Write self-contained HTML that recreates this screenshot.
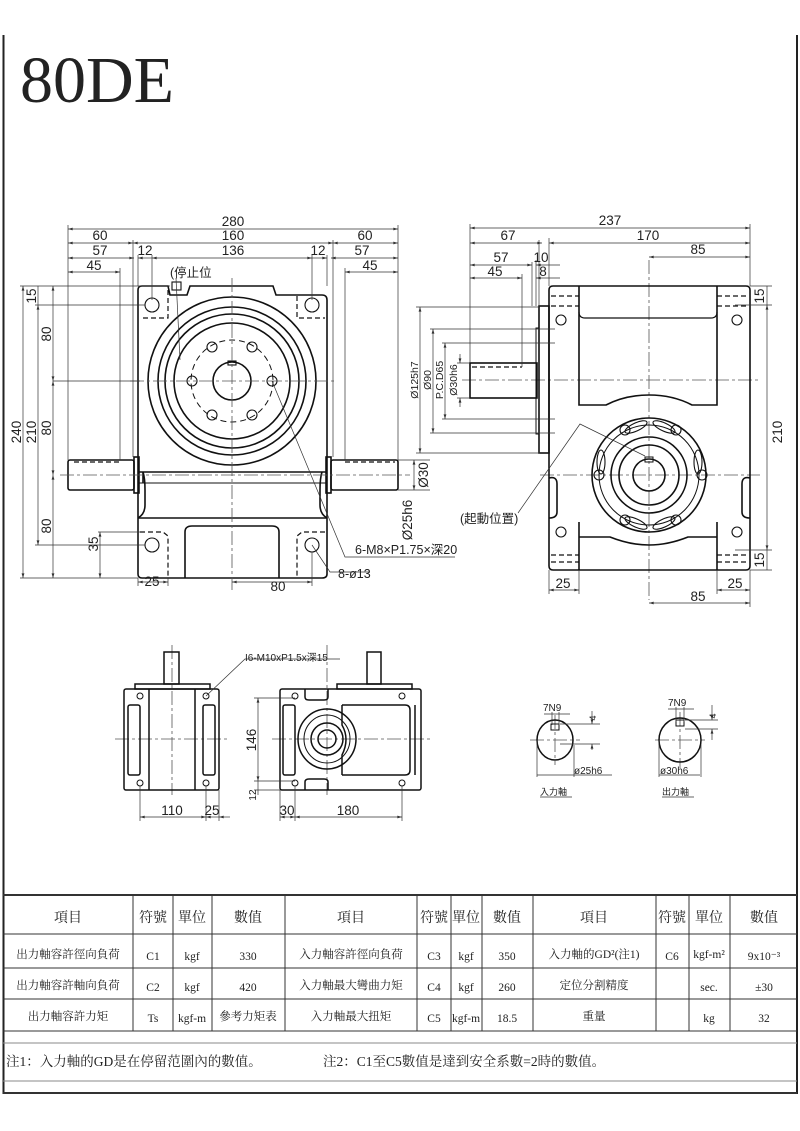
<!DOCTYPE html>
<html><head><meta charset="utf-8"><style>
html,body{margin:0;padding:0;background:#fff}
svg{display:block}
text{font-family:"Liberation Sans","Noto Sans CJK TC",sans-serif;fill:#222}
.t{font-family:"Liberation Serif","Noto Serif CJK SC",serif;fill:#222}
</style></head><body>
<svg width="800" height="1131" viewBox="0 0 800 1131" xmlns="http://www.w3.org/2000/svg">
<defs>
<marker id="a" viewBox="0 0 10 6" refX="10" refY="3" markerWidth="7" markerHeight="4" orient="auto-start-reverse"><path d="M0,0L10,3L0,6z" fill="#333"/></marker>
</defs>
<!-- frame -->
<line x1="3.5" y1="35" x2="3.5" y2="1094" stroke="#222" stroke-width="2"/>
<line x1="797" y1="35" x2="797" y2="1094" stroke="#222" stroke-width="2"/>
<text x="20" y="102" class="t" font-size="66" style="font-family:'Liberation Serif',serif">80DE</text>

<g fill="none" stroke="#111" stroke-width="1.6">
<!-- LEFT VIEW -->
<path d="M138,290 Q138,286 142,286 L168,286 L170,295 L187,295 L190,286 L273,286 L276,295 L322,295 Q327,295 327,300 L327,574 Q327,578 322,578 L142,578 Q138,578 138,574 Z"/>
<circle cx="232" cy="381" r="84"/>
<circle cx="232" cy="381" r="74"/>
<circle cx="232" cy="381" r="67"/>
<circle cx="232" cy="381" r="58"/>
<circle cx="232" cy="381" r="19"/>
<line x1="138" y1="472" x2="327" y2="472"/>
<line x1="143" y1="472" x2="143" y2="483" />
<path d="M143,472 Q145,478 145,490 L145,505 Q145,514 138,518"/>
<path d="M322,472 Q320,478 320,490 L320,505 Q320,514 327,518"/>
<line x1="138" y1="483" x2="327" y2="483" stroke-width="1"/>
<line x1="138" y1="518" x2="327" y2="518"/>
<path d="M185,578 L185,532 Q185,526 192,526 L272,526 Q279,526 279,532 L279,578"/>
<rect x="68" y="460" width="66" height="30" rx="2"/>
<rect x="134" y="457" width="5" height="36"/>
<rect x="331" y="460" width="67" height="30" rx="2"/>
<rect x="326" y="457" width="5" height="36"/>
<g stroke-width="1.1"><circle cx="152" cy="305" r="7"/><circle cx="312" cy="305" r="7"/><circle cx="152" cy="545" r="7"/><circle cx="312" cy="545" r="7"/></g>
<g stroke-width="1.2" stroke-dasharray="5,3">
<path d="M168,290 L168,318 L140,318"/><path d="M297,296 L297,318 L325,318"/>
<path d="M140,532 L163,532 L168,536 L168,576"/><path d="M325,532 L302,532 L297,536 L297,576"/>
<line x1="74" y1="462" x2="120" y2="462"/><line x1="345" y1="462" x2="395" y2="462"/>
</g>
<g stroke-width="1"><circle cx="232" cy="381" r="41" stroke-dasharray="6,4"/></g>
<g stroke-width="1.1">
<circle cx="212" cy="347" r="5"/><circle cx="252" cy="347" r="5"/><circle cx="192" cy="381" r="5"/><circle cx="272" cy="381" r="5"/><circle cx="212" cy="415" r="5"/><circle cx="252" cy="415" r="5"/>
<rect x="228" y="361" width="8" height="4"/>
<rect x="172" y="282" width="9" height="8"/>
</g>
</g>
<!-- center lines -->
<g stroke="#555" stroke-width="0.8" stroke-dasharray="14,3,3,3" fill="none">
<line x1="232" y1="278" x2="232" y2="590"/><line x1="130" y1="381" x2="335" y2="381"/>
<line x1="60" y1="475" x2="410" y2="475"/>
<line x1="462" y1="380" x2="760" y2="380"/><line x1="649" y1="260" x2="649" y2="600"/>
<line x1="540" y1="475" x2="760" y2="475"/>
<line x1="172" y1="645" x2="172" y2="795"/><line x1="115" y1="739" x2="228" y2="739"/>
<line x1="327" y1="645" x2="327" y2="795"/><line x1="272" y1="739" x2="430" y2="739"/>
<line x1="555" y1="715" x2="555" y2="765"/><line x1="530" y1="740" x2="580" y2="740"/>
<line x1="680" y1="712" x2="680" y2="768"/><line x1="655" y1="740" x2="705" y2="740"/>
</g>

<!-- RIGHT VIEW -->
<g fill="none" stroke="#111" stroke-width="1.6">
<path d="M549,290 Q549,286 553,286 L746,286 Q750,286 750,290 L750,566 Q750,570 746,570 L553,570 Q549,570 549,566 Z"/>
<rect x="539" y="306" width="10" height="147"/>
<rect x="536" y="328" width="3" height="106" stroke-width="1"/>
<rect x="470" y="363" width="67" height="35"/>
<path d="M579,286 L579,405 L606,405 Q625,395 649,395 Q673,395 692,405 L717,405 L717,286"/>
<path d="M579,312 Q579,318 585,318 L711,318 Q717,318 717,312" stroke-width="1.2"/>
<path d="M579,522 L579,570 M717,522 L717,570"/>
<path d="M579,537 L610,537 Q630,545 649,545 Q668,545 688,537 L717,537"/>
<path d="M549,478 Q557,476 557,484 L557,512 Q557,518 549,518"/>
<path d="M750,478 Q742,476 742,484 L742,512 Q742,518 750,518"/>
<circle cx="649" cy="475" r="57"/><circle cx="649" cy="475" r="50" stroke-width="1"/>
<circle cx="649" cy="475" r="38"/><circle cx="649" cy="475" r="30"/><circle cx="649" cy="475" r="16"/>
<rect x="645" y="457" width="8" height="5" stroke-width="1"/>
<g stroke-width="1.1">
<circle cx="561" cy="320" r="5"/><circle cx="737" cy="320" r="5"/><circle cx="561" cy="532" r="5"/><circle cx="737" cy="532" r="5"/>
<circle cx="625" cy="430" r="5"/><circle cx="676" cy="430" r="5"/><circle cx="599" cy="475" r="5"/><circle cx="702" cy="475" r="5"/><circle cx="625" cy="520" r="5"/><circle cx="676" cy="520" r="5"/>
<ellipse cx="636" cy="427" rx="12" ry="4" transform="rotate(-25 636 427)"/><ellipse cx="664" cy="427" rx="12" ry="4" transform="rotate(25 664 427)"/>
<ellipse cx="601" cy="462" rx="4" ry="12"/><ellipse cx="698" cy="462" rx="4" ry="12"/>
<ellipse cx="636" cy="523" rx="12" ry="4" transform="rotate(25 636 523)"/><ellipse cx="664" cy="523" rx="12" ry="4" transform="rotate(-25 664 523)"/>
</g>
<g stroke-width="1.2" stroke-dasharray="5,3">
<line x1="551" y1="296" x2="579" y2="296"/><line x1="717" y1="296" x2="748" y2="296"/>
<line x1="551" y1="306" x2="579" y2="306"/><line x1="717" y1="306" x2="748" y2="306"/>
<line x1="551" y1="555" x2="579" y2="555"/><line x1="717" y1="555" x2="748" y2="555"/>
<line x1="551" y1="562" x2="579" y2="562"/><line x1="717" y1="562" x2="748" y2="562"/>
<line x1="472" y1="367" x2="522" y2="367"/>
</g>
</g>

<!-- BOTTOM VIEWS -->
<g fill="none" stroke="#111" stroke-width="1.5">
<rect x="124" y="689" width="95" height="101" rx="2"/>
<rect x="135" y="684" width="75" height="5"/>
<rect x="164" y="652" width="15" height="32"/>
<line x1="149" y1="689" x2="149" y2="790"/><line x1="195" y1="689" x2="195" y2="790"/>
<rect x="128" y="705" width="12" height="70" rx="2"/><rect x="203" y="705" width="12" height="70" rx="2"/>
<g stroke-width="1"><circle cx="140" cy="696" r="3"/><circle cx="206" cy="696" r="3"/><circle cx="140" cy="783" r="3"/><circle cx="206" cy="783" r="3"/></g>
<rect x="280" y="689" width="141" height="101" rx="2"/>
<rect x="337" y="684" width="75" height="5"/>
<rect x="367" y="652" width="14" height="32"/>
<path d="M305,689 L305,697 Q305,700 309,700 L324,700 Q328,700 328,697 L328,689"/>
<path d="M305,790 L305,782 Q305,779 309,779 L324,779 Q328,779 328,782 L328,790"/>
<path d="M342,705 L342,725 Q350,739 342,755 L342,775 M415,705 L415,775"/>
<path d="M342,705 L405,705 Q410,705 410,710 L410,770 Q410,775 405,775 L342,775"/>
<rect x="283" y="705" width="12" height="70" rx="2"/>
<ellipse cx="327" cy="739" rx="29" ry="30"/><ellipse cx="327" cy="739" rx="23" ry="24" stroke-width="1"/>
<circle cx="327" cy="739" r="16"/><circle cx="327" cy="739" r="9"/>
<g stroke-width="1"><circle cx="295" cy="696" r="3"/><circle cx="402" cy="696" r="3"/><circle cx="295" cy="783" r="3"/><circle cx="402" cy="783" r="3"/></g>
<ellipse cx="555" cy="740" rx="18" ry="20"/>
<rect x="551" y="724" width="8" height="6" stroke-width="1"/>
<ellipse cx="680" cy="740" rx="21" ry="22"/>
<rect x="676" y="720" width="8" height="6" stroke-width="1"/>
</g>

<!-- dimension lines -->
<g stroke="#333" stroke-width="0.7" fill="none">
<!-- left view horizontal -->
<line x1="68" y1="229" x2="398" y2="229" marker-start="url(#a)" marker-end="url(#a)"/>
<line x1="68" y1="243" x2="133" y2="243" marker-start="url(#a)" marker-end="url(#a)"/>
<line x1="133" y1="243" x2="333" y2="243" marker-start="url(#a)" marker-end="url(#a)"/>
<line x1="333" y1="243" x2="398" y2="243" marker-start="url(#a)" marker-end="url(#a)"/>
<line x1="68" y1="258" x2="134" y2="258" marker-start="url(#a)" marker-end="url(#a)"/>
<line x1="138" y1="258" x2="152" y2="258" marker-start="url(#a)"/>
<line x1="152" y1="258" x2="312" y2="258" marker-start="url(#a)" marker-end="url(#a)"/>
<line x1="312" y1="258" x2="327" y2="258" marker-end="url(#a)"/>
<line x1="331" y1="258" x2="398" y2="258" marker-start="url(#a)" marker-end="url(#a)"/>
<line x1="68" y1="272" x2="120" y2="272" marker-start="url(#a)" marker-end="url(#a)"/>
<line x1="345" y1="272" x2="398" y2="272" marker-start="url(#a)" marker-end="url(#a)"/>
<path d="M68,225 V460 M398,225 V460 M133,240 V457 M333,240 V457 M138,255 V286 M327,255 V286 M152,255 V300 M312,255 V300 M120,268 V460 M345,268 V460"/>
<!-- left view verticals -->
<line x1="23" y1="286" x2="23" y2="578" marker-start="url(#a)" marker-end="url(#a)"/>
<line x1="38" y1="305" x2="38" y2="545" marker-start="url(#a)" marker-end="url(#a)"/>
<line x1="38" y1="286" x2="38" y2="305"/>
<line x1="53" y1="286" x2="53" y2="381" marker-start="url(#a)" marker-end="url(#a)"/>
<line x1="53" y1="381" x2="53" y2="475" marker-start="url(#a)" marker-end="url(#a)"/>
<line x1="53" y1="475" x2="53" y2="578" marker-start="url(#a)" marker-end="url(#a)"/>
<line x1="100" y1="532" x2="100" y2="578" marker-start="url(#a)" marker-end="url(#a)"/>
<path d="M20,286 H170 M35,305 H145 M20,578 H138 M35,545 H145 M98,532 H140 M53,381 H140"/>
<line x1="232" y1="582" x2="312" y2="582" marker-start="url(#a)" marker-end="url(#a)"/>
<line x1="138" y1="582" x2="168" y2="582" marker-start="url(#a)" marker-end="url(#a)"/>
<path d="M138,578 V586 M168,578 V586 M312,552 V586"/>
<!-- right view dims -->
<line x1="470" y1="228" x2="750" y2="228" marker-start="url(#a)" marker-end="url(#a)"/>
<line x1="470" y1="243" x2="542" y2="243" marker-start="url(#a)" marker-end="url(#a)"/>
<line x1="549" y1="243" x2="750" y2="243" marker-start="url(#a)" marker-end="url(#a)"/>
<line x1="649" y1="257" x2="750" y2="257" marker-start="url(#a)" marker-end="url(#a)"/>
<line x1="470" y1="265" x2="532" y2="265" marker-start="url(#a)" marker-end="url(#a)"/>
<line x1="536" y1="265" x2="560" y2="265" marker-start="url(#a)"/>
<line x1="470" y1="278" x2="522" y2="278" marker-start="url(#a)" marker-end="url(#a)"/>
<line x1="536" y1="278" x2="560" y2="278" marker-start="url(#a)"/>
<path d="M470,224 V363 M750,224 V286 M549,238 V286 M536,260 V306 M539,240 V306 M522,274 V367 M532,262 V306"/>
<line x1="420" y1="307" x2="420" y2="453" marker-start="url(#a)" marker-end="url(#a)"/>
<line x1="433" y1="329" x2="433" y2="433" marker-start="url(#a)" marker-end="url(#a)"/>
<line x1="445" y1="343" x2="445" y2="419" marker-start="url(#a)" marker-end="url(#a)"/>
<line x1="460" y1="354" x2="460" y2="363" marker-end="url(#a)"/><line x1="460" y1="407" x2="460" y2="398" marker-end="url(#a)"/>
<path d="M416,307 H540 M430,329 H555 M442,343 H555 M442,419 H555 M430,433 H555 M416,453 H540 M457,363 H470 M457,398 H470"/>
<line x1="414" y1="460" x2="414" y2="490" marker-start="url(#a)" marker-end="url(#a)"/>
<path d="M398,460 H430 M398,490 H430"/>
<line x1="767" y1="305" x2="767" y2="550" marker-start="url(#a)" marker-end="url(#a)"/>
<line x1="767" y1="286" x2="767" y2="305"/><line x1="767" y1="550" x2="767" y2="570"/>
<path d="M750,286 H772 M735,305 H772 M735,550 H772 M750,570 H772"/>
<line x1="549" y1="590" x2="579" y2="590" marker-start="url(#a)" marker-end="url(#a)"/>
<line x1="717" y1="590" x2="750" y2="590" marker-start="url(#a)" marker-end="url(#a)"/>
<line x1="649" y1="603" x2="750" y2="603" marker-start="url(#a)" marker-end="url(#a)"/>
<path d="M549,570 V594 M579,570 V594 M717,570 V594 M750,570 V607"/>
<!-- leaders -->
<path d="M272,381 L345,557 H455"/>
<path d="M312,545 L330,572 H370"/>
<path d="M176,278 L180,360"/>
<path d="M518,513 L580,424 L645,456"/>
<path d="M206,696 L245,659 H340"/>
<!-- bottom dims -->
<line x1="140" y1="817" x2="206" y2="817" marker-start="url(#a)" marker-end="url(#a)"/>
<line x1="206" y1="817" x2="219" y2="817" marker-start="url(#a)"/>
<line x1="219" y1="817" x2="230" y2="817" marker-start="url(#a)"/>
<line x1="280" y1="817" x2="295" y2="817" marker-start="url(#a)" marker-end="url(#a)"/>
<line x1="295" y1="817" x2="402" y2="817" marker-start="url(#a)" marker-end="url(#a)"/>
<path d="M140,786 V821 M206,786 V821 M219,790 V821 M280,790 V821 M295,786 V821 M402,786 V821"/>
<line x1="258" y1="698" x2="258" y2="781" marker-start="url(#a)" marker-end="url(#a)"/>
<line x1="258" y1="781" x2="258" y2="795"/>
<path d="M254,698 H295 M254,781 H295 M254,790 H280"/>
<!-- keyway dims -->
<path d="M537,740 V777 M574,745 V777 M537,775 H612 M552,712 V725 M559,712 V725 M560,724 H600 M560,744 H600 M544,714 H570"/>
<line x1="592" y1="711" x2="592" y2="724" marker-end="url(#a)"/><line x1="592" y1="750" x2="592" y2="744" marker-end="url(#a)"/>
<path d="M659,740 V777 M701,745 V777 M659,775 H700 M676,707 V722 M684,707 V722 M685,720 H718 M685,729 H718 M668,709 H694"/>
<line x1="712" y1="705" x2="712" y2="720" marker-end="url(#a)"/><line x1="712" y1="740" x2="712" y2="729" marker-end="url(#a)"/>
<path d="M540,797 H572 M662,797 H694"/>
</g>

<!-- dim text -->
<g font-size="13.5" text-anchor="middle">
<text x="233" y="226">280</text><text x="100" y="240">60</text><text x="233" y="240">160</text><text x="365" y="240">60</text>
<text x="100" y="255">57</text><text x="145" y="255">12</text><text x="233" y="255">136</text><text x="318" y="255">12</text><text x="362" y="255">57</text>
<text x="94" y="270">45</text><text x="370" y="270">45</text>
<text x="152" y="586">25</text><text x="278" y="591">80</text>
<text x="610" y="225">237</text><text x="508" y="240">67</text><text x="648" y="240">170</text><text x="698" y="254">85</text>
<text x="501" y="262">57</text><text x="541" y="262">10</text><text x="495" y="276">45</text><text x="543" y="276">8</text>
<text x="563" y="588">25</text><text x="735" y="588">25</text><text x="698" y="601">85</text>
<text x="172" y="815">110</text><text x="212" y="815">25</text><text x="287" y="815">30</text><text x="348" y="815">180</text>
</g>
<g font-size="13.5" text-anchor="middle">
<text transform="translate(21,432) rotate(-90)">240</text>
<text transform="translate(36,432) rotate(-90)">210</text>
<text transform="translate(36,296) rotate(-90)">15</text>
<text transform="translate(51,334) rotate(-90)">80</text>
<text transform="translate(51,428) rotate(-90)">80</text>
<text transform="translate(51,526) rotate(-90)">80</text>
<text transform="translate(98,544) rotate(-90)">35</text>
<text transform="translate(428,475) rotate(-90)">Ø30</text>
<text transform="translate(412,520) rotate(-90)">Ø25h6</text>
<text transform="translate(782,432) rotate(-90)">210</text>
<text transform="translate(764,296) rotate(-90)">15</text>
<text transform="translate(764,560) rotate(-90)">15</text>
<text transform="translate(256,740) rotate(-90)">146</text>
<text transform="translate(256,795) rotate(-90)" font-size="10">12</text>
</g>
<g font-size="10.5" text-anchor="middle">
<text transform="translate(418,380) rotate(-90)">Ø125h7</text>
<text transform="translate(431,380) rotate(-90)">Ø90</text>
<text transform="translate(443,380) rotate(-90)">P.C.D65</text>
<text transform="translate(457,380) rotate(-90)">Ø30h6</text>
<text transform="translate(596,718) rotate(-90)" font-size="9">4</text>
<text transform="translate(716,716) rotate(-90)" font-size="9">4</text>
</g>
<g font-size="12.5">
<text x="170" y="277">(停止位</text>
<text x="355" y="554">6-M8×P1.75×深20</text>
<text x="338" y="578">8-ø13</text>
<text x="460" y="523">(起動位置)</text>
<text x="245" y="661" font-size="10">I6-M10xP1.5x深15</text>
<text x="543" y="711" font-size="10">7N9</text>
<text x="668" y="706" font-size="10">7N9</text>
<text x="574" y="774" font-size="10">ø25h6</text>
<text x="660" y="774" font-size="10">ø30h6</text>
<text x="540" y="795" font-size="9">入力軸</text>
<text x="662" y="795" font-size="9">出力軸</text>
</g>

<!-- TABLE -->
<g stroke="#333" stroke-width="1" fill="none">
<line x1="3" y1="895" x2="797" y2="895" stroke-width="2"/>
<line x1="3" y1="934" x2="797" y2="934"/>
<line x1="3" y1="968" x2="797" y2="968"/>
<line x1="3" y1="999" x2="797" y2="999"/>
<line x1="3" y1="1031" x2="797" y2="1031"/>
<line x1="3" y1="1043" x2="797" y2="1043" stroke="#888"/>
<line x1="3" y1="1081" x2="797" y2="1081" stroke="#888"/>
<line x1="3" y1="1093" x2="797" y2="1093" stroke-width="2"/>
<path d="M133,895V1031 M173,895V1031 M212,895V1031 M285,895V1031 M417,895V1031 M451,895V1031 M482,895V1031 M533,895V1031 M656,895V1031 M689,895V1031 M730,895V1031"/>
</g>
<g class="t" font-size="14" text-anchor="middle">
<text x="68" y="922" class="t">項目</text><text x="153" y="922" class="t">符號</text><text x="192" y="922" class="t">單位</text><text x="248" y="922" class="t">數值</text>
<text x="351" y="922" class="t">項目</text><text x="434" y="922" class="t">符號</text><text x="466" y="922" class="t">單位</text><text x="507" y="922" class="t">數值</text>
<text x="594" y="922" class="t">項目</text><text x="672" y="922" class="t">符號</text><text x="709" y="922" class="t">單位</text><text x="764" y="922" class="t">數值</text>
</g>
<g font-size="11.5" text-anchor="middle" style="font-family:'Liberation Serif','Noto Serif CJK SC',serif">
<text x="68" y="958" class="t">出力軸容許徑向負荷</text><text x="153" y="960" class="t">C1</text><text x="192" y="960" class="t">kgf</text><text x="248" y="960" class="t">330</text>
<text x="351" y="958" class="t">入力軸容許徑向負荷</text><text x="434" y="960" class="t">C3</text><text x="466" y="960" class="t">kgf</text><text x="507" y="960" class="t">350</text>
<text x="594" y="958" class="t">入力軸的GD²(注1)</text><text x="672" y="960" class="t">C6</text><text x="709" y="958" class="t">kgf-m²</text><text x="764" y="960" class="t">9x10⁻³</text>
<text x="68" y="989" class="t">出力軸容許軸向負荷</text><text x="153" y="991" class="t">C2</text><text x="192" y="991" class="t">kgf</text><text x="248" y="991" class="t">420</text>
<text x="351" y="989" class="t">入力軸最大彎曲力矩</text><text x="434" y="991" class="t">C4</text><text x="466" y="991" class="t">kgf</text><text x="507" y="991" class="t">260</text>
<text x="594" y="989" class="t">定位分割精度</text><text x="709" y="991" class="t">sec.</text><text x="764" y="991" class="t">±30</text>
<text x="68" y="1020" class="t">出力軸容許力矩</text><text x="153" y="1022" class="t">Ts</text><text x="192" y="1022" class="t">kgf-m</text><text x="248" y="1020" class="t">參考力矩表</text>
<text x="351" y="1020" class="t">入力軸最大扭矩</text><text x="434" y="1022" class="t">C5</text><text x="466" y="1022" class="t">kgf-m</text><text x="507" y="1022" class="t">18.5</text>
<text x="594" y="1020" class="t">重量</text><text x="709" y="1022" class="t">kg</text><text x="764" y="1022" class="t">32</text>
</g>
<g font-size="13.5">
<text x="6" y="1066" class="t">注1：入力軸的GD是在停留范圍內的數值。</text>
<text x="323" y="1066" class="t">注2：C1至C5數值是達到安全系數=2時的數值。</text>
</g>
</svg>
</body></html>
